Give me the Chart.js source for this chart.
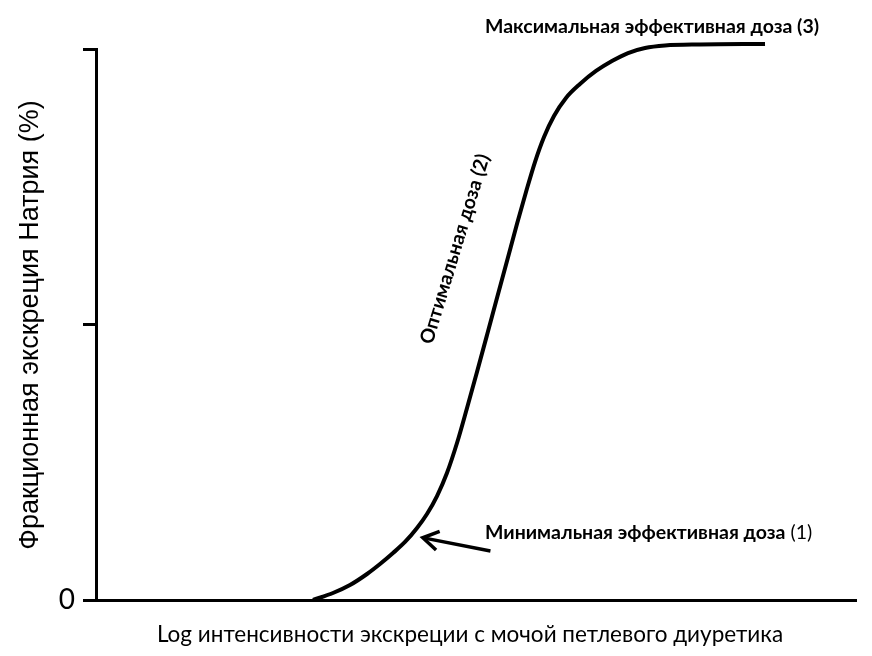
<!DOCTYPE html>
<html>
<head>
<meta charset="utf-8">
<script src="https://cdn.jsdelivr.net/npm/chart.js@4/dist/chart.umd.min.js"></script>
<style>
html,body{margin:0;padding:0;background:#fff;}
canvas{display:block;}
</style>
</head>
<body>
<canvas id="c" width="872" height="656"></canvas>
<script>
// Curve (x: log excretion rate on a 0..100 scale; y: % of maximal natriuresis)
const logRate = [28.55, 31.18, 33.42, 35.66, 37.37, 39.08, 40.66, 42.24, 43.55, 44.87, 46.18, 47.50, 48.82, 50.13, 51.45, 52.76, 54.08, 55.39, 56.58, 57.76, 58.95, 60.26, 61.84, 63.68, 65.79, 67.89, 70.00, 72.24, 74.87, 79.47, 88.03];
const fractionalNa = [0, 1.27, 2.72, 4.72, 6.53, 8.53, 10.53, 13.07, 15.61, 18.87, 23.05, 28.49, 34.85, 41.38, 48.09, 54.81, 61.52, 68.24, 74.05, 79.49, 84.03, 87.84, 91.11, 93.65, 96.01, 97.82, 99.27, 100.18, 100.63, 100.82, 100.91];
const yTicks = [0, 50, 100];
const yTickLabels = ['0', '', ''];
// arrow pointing at minimal effective dose: [tail, tip]
const arrowX = [51.9, 43.0];
const arrowY = [8.9, 11.3];

const yTitle = 'Фракционная экскреция Натрия (%)';
const xTitle = 'Log интенсивности экскреции с мочой петлевого диуретика';
const labelMax = 'Максимальная эффективная доза (3)';
const labelOpt = 'Оптимальная доза (2)';
const labelMinBold = 'Минимальная эффективная доза';
const labelMinNum = ' (1)';

const points = logRate.map((x, i) => ({x: x, y: fractionalNa[i]}));

const annot = {
  id: 'annot',
  afterDatasetsDraw(chart) {
    const ctx = chart.ctx;
    const xs = chart.scales.x, ys = chart.scales.y;
    ctx.save();
    ctx.fillStyle = '#000';
    ctx.strokeStyle = '#000';
    // arrow
    const x0 = xs.getPixelForValue(arrowX[0]), y0 = ys.getPixelForValue(arrowY[0]);
    const x1 = xs.getPixelForValue(arrowX[1]), y1 = ys.getPixelForValue(arrowY[1]);
    ctx.lineWidth = 3.5;
    ctx.lineCap = 'butt';
    ctx.beginPath(); ctx.moveTo(x0, y0); ctx.lineTo(x1 + 2, y1 + 0.4); ctx.stroke();
    const ang = Math.atan2(y1 - y0, x1 - x0);
    const hl = 18, ha = 0.55;
    ctx.beginPath();
    ctx.moveTo(x1 - hl * Math.cos(ang - ha), y1 - hl * Math.sin(ang - ha));
    ctx.lineTo(x1, y1);
    ctx.lineTo(x1 - hl * Math.cos(ang + ha), y1 - hl * Math.sin(ang + ha));
    ctx.lineJoin = 'miter';
    ctx.stroke();

    const bold = 'bold 19.5px Lato, "Open Sans", sans-serif';
    ctx.textBaseline = 'middle';
    ctx.textAlign = 'left';
    ctx.font = bold;
    ctx.fillText(labelMax, 485, 27);
    ctx.fillText(labelMinBold, 485, 533);
    const w = ctx.measureText(labelMinBold).width;
    ctx.font = '19.5px Lato, "Open Sans", sans-serif';
    ctx.fillText(labelMinNum, 485 + w, 533);
    // optimal dose (rotated)
    ctx.save();
    ctx.translate(455, 249);
    ctx.rotate(-73 * Math.PI / 180);
    ctx.textAlign = 'center';
    ctx.font = bold;
    ctx.fillText(labelOpt, 0, 0);
    ctx.restore();

    // axis titles
    ctx.font = '22.5px Lato, "Open Sans", sans-serif';
    ctx.textAlign = 'center';
    ctx.fillText(xTitle, 470, 635);
    ctx.save();
    ctx.translate(31, 325);
    ctx.rotate(-Math.PI / 2);
    ctx.font = '27px "Liberation Sans", Arial, sans-serif';
    ctx.fillText(yTitle, 0, 0);
    ctx.restore();
    ctx.restore();
  }
};

new Chart(document.getElementById('c'), {
  type: 'line',
  data: {
    datasets: [{
      data: points,
      borderColor: '#000',
      borderWidth: 4,
      pointRadius: 0,
      fill: false,
      cubicInterpolationMode: 'monotone',
      clip: false
    }]
  },
  options: {
    responsive: false,
    animation: false,
    devicePixelRatio: 1,
    layout: {padding: {top: 49, right: 16, left: 0, bottom: 0}},
    plugins: {legend: {display: false}, tooltip: {enabled: false}, title: {display: false}},
    scales: {
      x: {
        type: 'linear', min: 0, max: 100,
        ticks: {display: false},
        grid: {display: false},
        border: {display: true, color: '#000', width: 3},
        afterFit(s) { s.height = 56; }
      },
      y: {
        type: 'linear', min: 0, max: 100,
        afterBuildTicks(s) { s.ticks = yTicks.map(v => ({value: v})); },
        ticks: {
          callback: (v) => yTickLabels[yTicks.indexOf(v)] ?? '',
          color: '#000',
          padding: 8,
          font: {size: 28, family: 'Lato, "Open Sans", sans-serif'}
        },
        grid: {drawOnChartArea: false, drawTicks: true, tickLength: 13, color: '#000', lineWidth: 3},
        border: {display: true, color: '#000', width: 3},
        afterFit(s) { s.width = 96; }
      }
    }
  },
  plugins: [annot]
});
</script>
</body>
</html>
